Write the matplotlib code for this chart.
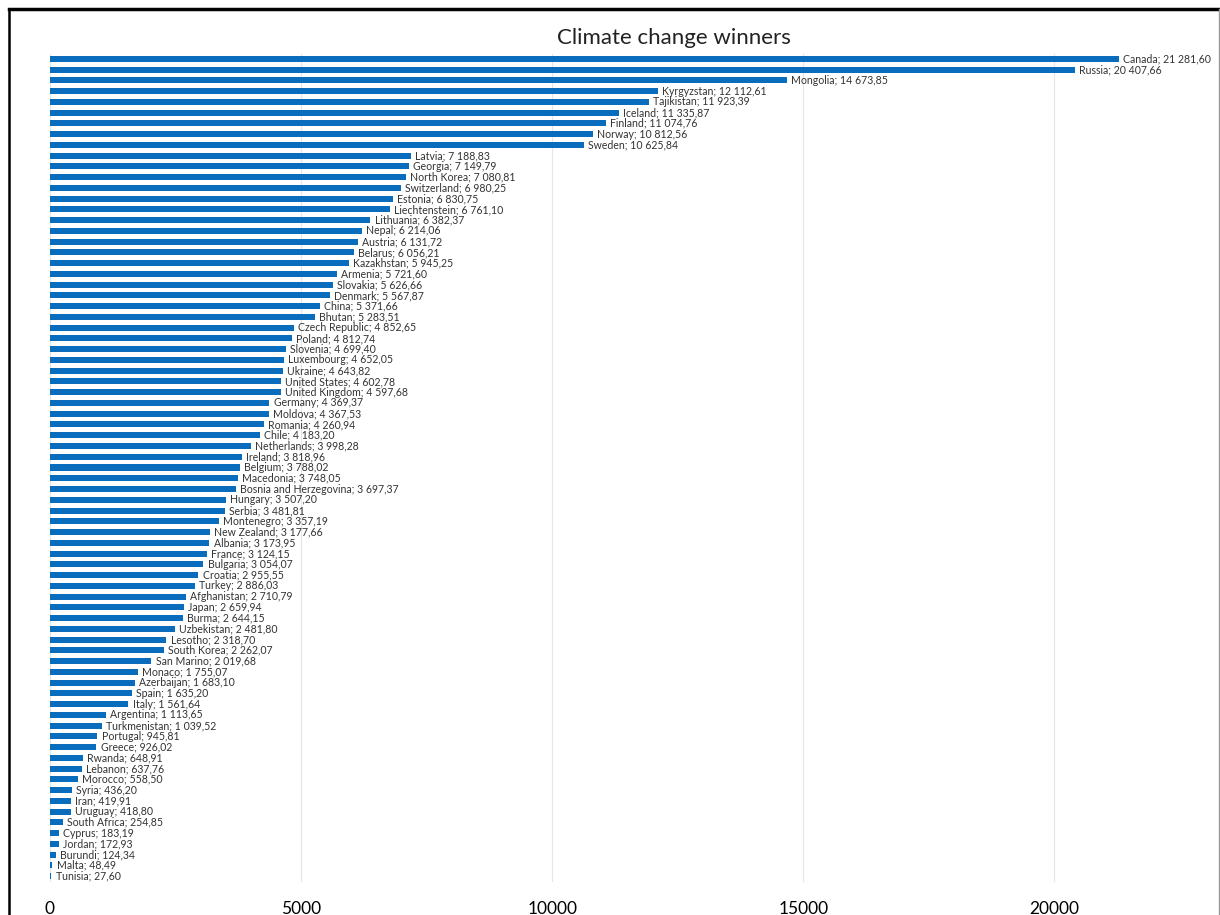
import matplotlib
matplotlib.use("Agg")
import matplotlib.pyplot as plt
from matplotlib.lines import Line2D

countries = ["Canada", "Russia", "Mongolia", "Kyrgyzstan", "Tajikistan", "Iceland", "Finland",
             "Norway", "Sweden", "Latvia", "Georgia", "North Korea", "Switzerland", "Estonia",
             "Liechtenstein", "Lithuania", "Nepal", "Austria", "Belarus", "Kazakhstan", "Armenia",
             "Slovakia", "Denmark", "China", "Bhutan", "Czech Republic", "Poland", "Slovenia",
             "Luxembourg", "Ukraine", "United States", "United Kingdom", "Germany", "Moldova",
             "Romania", "Chile", "Netherlands", "Ireland", "Belgium", "Macedonia",
             "Bosnia and Herzegovina", "Hungary", "Serbia", "Montenegro", "New Zealand", "Albania",
             "France", "Bulgaria", "Croatia", "Turkey", "Afghanistan", "Japan", "Burma",
             "Uzbekistan", "Lesotho", "South Korea", "San Marino", "Monaco", "Azerbaijan", "Spain",
             "Italy", "Argentina", "Turkmenistan", "Portugal", "Greece", "Rwanda", "Lebanon",
             "Morocco", "Syria", "Iran", "Uruguay", "South Africa", "Cyprus", "Jordan", "Burundi",
             "Malta", "Tunisia"]
values = [21281.60, 20407.66, 14673.85, 12112.61, 11923.39, 11335.87, 11074.76,
          10812.56, 10625.84, 7188.83, 7149.79, 7080.81, 6980.25, 6830.75,
          6761.10, 6382.37, 6214.06, 6131.72, 6056.21, 5945.25, 5721.60,
          5626.66, 5567.87, 5371.66, 5283.51, 4852.65, 4812.74, 4699.40,
          4652.05, 4643.82, 4602.78, 4597.68, 4369.37, 4367.53,
          4260.94, 4183.20, 3998.28, 3818.96, 3788.02, 3748.05,
          3697.37, 3507.20, 3481.81, 3357.19, 3177.66, 3173.95,
          3124.15, 3054.07, 2955.55, 2886.03, 2710.79, 2659.94, 2644.15,
          2481.80, 2318.70, 2262.07, 2019.68, 1755.07, 1683.10, 1635.20,
          1561.64, 1113.65, 1039.52, 945.81, 926.02, 648.91, 637.76,
          558.50, 436.20, 419.91, 418.80, 254.85, 183.19, 172.93, 124.34,
          48.49, 27.60]
xticks = [0, 5000, 10000, 15000, 20000]
title = "Climate change winners"

plt.rcParams['font.family'] = ['Lato', 'DejaVu Sans']

W, H = 1220, 915
fig = plt.figure(figsize=(W / 100, H / 100), dpi=100)

ax_left, ax_right = 50, 1220
ax_top, ax_bottom = 53.5, 881.5
ax = fig.add_axes([ax_left / W, 1 - ax_bottom / H, (ax_right - ax_left) / W, (ax_bottom - ax_top) / H])

ypos = list(range(len(countries)))
ax.barh(ypos, values, height=0.56, color="#0a6cbc", zorder=2)
ax.set_ylim(len(countries) - 0.5, -0.5)
ax.set_xlim(0, 23300)


def fmt(v):
    s = f"{v:,.2f}"
    return s.replace(",", " ").replace(".", ",")


for y, (c, v) in enumerate(zip(countries, values)):
    ax.annotate(f"{c}; {fmt(v)}", xy=(v, y), xytext=(3, 0), textcoords="offset points",
                va="center", ha="left", fontsize=7.6, color="#333333", zorder=3)

ax.set_xticks(xticks)
ax.set_xticklabels([str(t) for t in xticks], fontsize=12.5, color="#000000")
ax.tick_params(axis="x", length=0, pad=14)
ax.set_yticks([])
for s in ax.spines.values():
    s.set_visible(False)
ax.grid(axis="x", color="#e6e6e6", linewidth=0.8, zorder=0)
ax.set_axisbelow(True)

fig.text(674 / W, 1 - 38 / H, title, ha="center", va="center", fontsize=16, color="#222222")

# outer frame
fig.add_artist(Line2D([9 / W, 9 / W], [0, 1 - 9 / H], transform=fig.transFigure, color="black", linewidth=1.8))
fig.add_artist(Line2D([9 / W, 1], [1 - 9 / H, 1 - 9 / H], transform=fig.transFigure, color="black", linewidth=2.5))
fig.add_artist(Line2D([1219 / W, 1219 / W], [0, 1 - 9 / H], transform=fig.transFigure, color="#9a9a9a", linewidth=1.0))

fig.savefig("out.png", dpi=100)
